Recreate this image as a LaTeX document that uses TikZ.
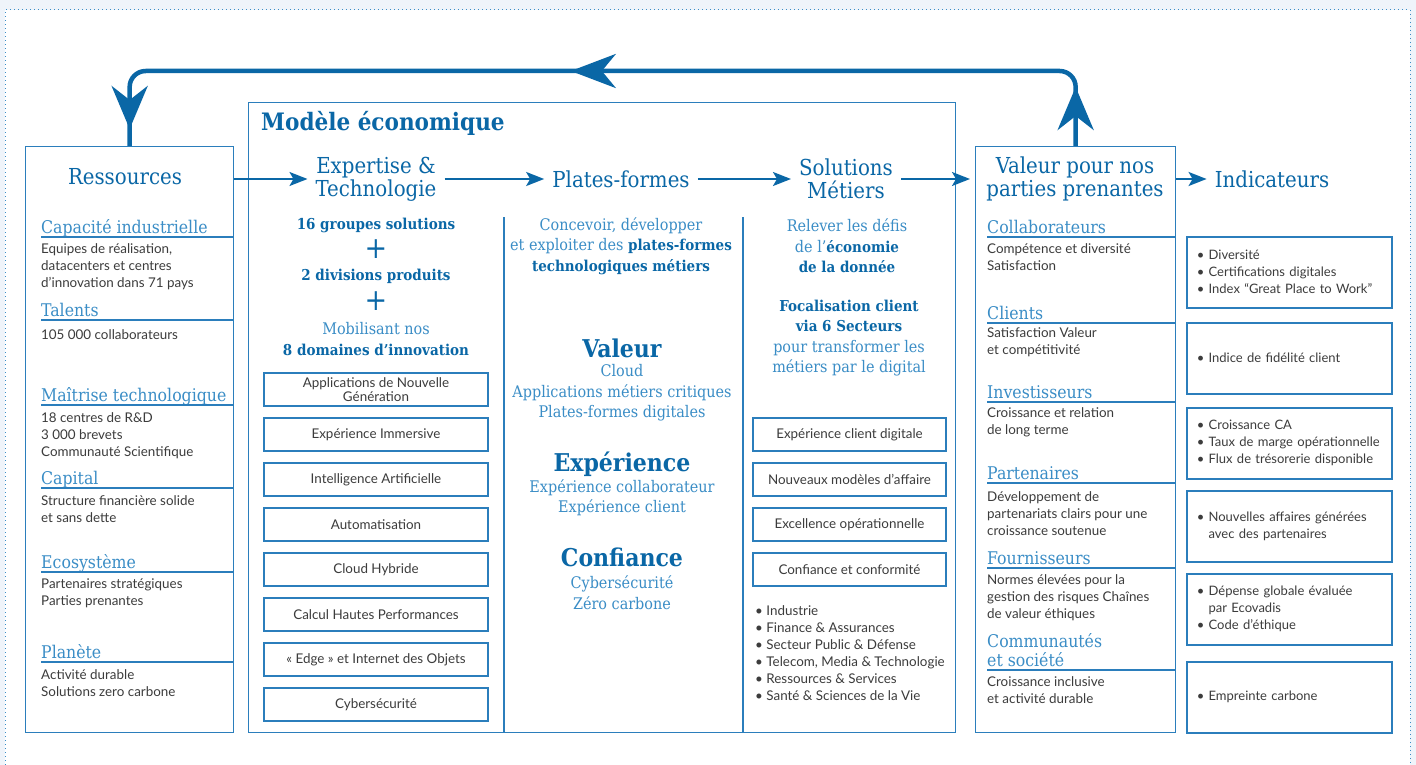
\documentclass[tikz,border=0pt]{standalone}
\usepackage{fontspec}
\usepackage{tikz}
\usetikzlibrary{arrows.meta}
\usetikzlibrary{decorations.markings}
\setmainfont{Lato}
\IfFontExistsTF{DejaVu Serif Condensed}
    {\newfontfamily\slab{DejaVu Serif Condensed}}
    {\newfontfamily\slab[FakeStretch = 0.9]{DejaVu Serif}}
\definecolor{AtosBlue}{HTML}{0A67A6}
\definecolor{AtosSky}{HTML}{3A8DC6}
\definecolor{AtosLine}{HTML}{2B7EBC}
\definecolor{AtosGrey}{HTML}{3C3C3C}
\definecolor{AtosBack}{HTML}{EFF4FA}
\newcommand{\hl}[1]{\textcolor{AtosBlue}{\bfseries\fontsize{15}{20.5}\selectfont #1}}

\begin{document}
\begin{tikzpicture}[
        x = 1pt,
        y = -1pt,
        frame/.style = {
            draw       = AtosLine,
            line width = 1.3pt,
            anchor     = north west,
            inner sep  = 0pt,
        },
        wall/.style = {
            draw       = AtosLine,
            line width = 1.3pt,
        },
        head/.style = {
            text       = AtosBlue,
            align      = center,
            inner xsep = 8pt,
            inner ysep = 0pt,
            font       = \slab\fontsize{22}{23}\selectfont,
        },
        title/.style = {
            text      = AtosBlue,
            anchor    = west,
            inner sep = 0pt,
            font      = \slab\bfseries\fontsize{24}{26}\selectfont,
        },
        cat/.style = {
            text       = AtosSky,
            anchor     = south west,
            inner sep  = 0pt,
            text depth = 3pt,
            font       = \slab\fontsize{17.5}{19}\selectfont,
        },
        rule/.style = {
            draw       = AtosLine,
            line width = 1.5pt,
        },
        body/.style = {
            text      = AtosGrey,
            anchor    = north west,
            align     = left,
            inner sep = 0pt,
            font      = \fontsize{13.4}{17}\selectfont,
            execute at begin node = \strut,
        },
        lead/.style = {
            text      = AtosSky,
            align     = center,
            inner sep = 0pt,
            font      = \slab\fontsize{16}{20.5}\selectfont,
        },
        big/.style = {
            text      = AtosBlue,
            inner sep = 0pt,
            font      = \slab\bfseries\fontsize{24.5}{26}\selectfont,
        },
        plus/.style = {
            text      = AtosBlue,
            inner sep = 0pt,
            font      = \slab\fontsize{30}{30}\selectfont,
        },
        domainbox/.style = {
            draw           = AtosLine,
            line width     = 1.2pt,
            text           = AtosGrey,
            align          = center,
            inner sep      = 0pt,
            minimum height = 33pt,
            font           = \fontsize{13.4}{14}\selectfont,
        },
        kpi/.style = {
            draw           = AtosLine,
            line width     = 1.5pt,
            text           = AtosGrey,
            anchor         = north west,
            align          = left,
            inner xsep     = 10pt,
            text width     = 185pt,
            minimum width  = 205pt,
            minimum height = 71pt,
            font           = \fontsize{13}{17}\selectfont,
        },
        flow/.style = {
            draw       = AtosBlue,
            line width = 2pt,
            -{Stealth[length = 18pt, width = 14pt, inset = 4pt]},
        },
        backloop/.style = {
            draw            = AtosBlue,
            line width      = 4.5pt,
            rounded corners = 16pt,
            postaction      = {decorate},
            decoration      = {
                markings,
                mark = at position 59pt with {\arrow[AtosBlue]{Stealth[length = 43pt, width = 36pt, inset = 14pt]}},
                mark = at position 573pt with {\arrow[AtosBlue]{Stealth[length = 45pt, width = 34pt, inset = 14pt]}},
                mark = at position -17pt with {\arrow[AtosBlue]{Stealth[length = 43pt, width = 36pt, inset = 14pt]}},
            },
        },
    ]
    \useasboundingbox (0,0) rectangle (1416,765);
    \fill[AtosBack] (0,0) rectangle (1416,765);
    \fill[white] (5,10) rectangle (1410,765);
    \draw[AtosSky, line width = 1pt, dash pattern = on 1pt off 3pt]
        (5,765) -- (5,10) -- (1410,10) -- (1410,765);

    % Ressources
    \node[frame, minimum width = 208pt, minimum height = 586pt] (res) at (25,146) {};
    \node[head] (resT) at (125,177) {Ressources};

    \node[cat] (cap) at (41,237) {Capacité industrielle};
    \draw[rule] (cap.south west) -- (cap.south west -| res.east);
    \node[body] (capB) at (41,243) {Equipes de réalisation,\\datacenters et centres\\d’innovation dans 71 pays};

    \node[cat] (tal) at (41,320) {Talents};
    \draw[rule] (tal.south west) -- (tal.south west -| res.east);
    \node[body] (talB) at (41,327) {105~000 collaborateurs};

    \node[cat] (mai) at (41,405) {Maîtrise technologique};
    \draw[rule] (mai.south west) -- (mai.south west -| res.east);
    \node[body] (maiB) at (41,412) {18 centres de R\&D\\3~000 brevets\\Communauté Scientifique};

    \node[cat] (capi) at (41,488) {Capital};
    \draw[rule] (capi.south west) -- (capi.south west -| res.east);
    \node[body] (capiB) at (41,495) {Structure financière solide\\et sans dette};

    \node[cat] (eco) at (41,572) {Ecosystème};
    \draw[rule] (eco.south west) -- (eco.south west -| res.east);
    \node[body] (ecoB) at (41,579) {Partenaires stratégiques\\Parties prenantes};

    \node[cat] (pla) at (41,662) {Planète};
    \draw[rule] (pla.south west) -- (pla.south west -| res.east);
    \node[body] (plaB) at (41,669) {Activité durable\\Solutions zero carbone};

    % Modele economique
    \node[frame, minimum width = 707pt, minimum height = 630pt] (mod) at (248,102) {};
    \node[title] (modT) at (261,123) {Modèle économique};
    \draw[wall] (504,217) -- (504,732);
    \draw[wall] (743,217) -- (743,732);

    \node[head] (expT) at (376,179) {Expertise \&\\Technologie};
    \node[head] (pfT) at (621,179) {Plates-formes};
    \node[head] (solT) at (846,179) {Solutions\\Métiers};

    \node[lead] (grp) at (376,225) {\hl{16 groupes solutions}};
    \node[plus] (plusA) at (376,249) {+};
    \node[lead] (div) at (376,276) {\hl{2 divisions produits}};
    \node[plus] (plusB) at (376,301) {+};
    \node[lead] (mob) at (376,339) {Mobilisant nos\\\hl{8 domaines d’innovation}};

    \node[domainbox, minimum width = 224pt] (dNext)  at (376,389.5) {Applications de Nouvelle\\Génération};
    \node[domainbox, minimum width = 224pt] (dImm)   at (376,434.5) {Expérience Immersive};
    \node[domainbox, minimum width = 224pt] (dIA)    at (376,479.5) {Intelligence Artificielle};
    \node[domainbox, minimum width = 224pt] (dAuto)  at (376,524.5) {Automatisation};
    \node[domainbox, minimum width = 224pt] (dCloud) at (376,569.5) {Cloud Hybride};
    \node[domainbox, minimum width = 224pt] (dHPC)   at (376,614.5) {Calcul Hautes Performances};
    \node[domainbox, minimum width = 224pt] (dEdge)  at (376,659.5) {«~Edge~» et Internet des Objets};
    \node[domainbox, minimum width = 224pt] (dCyber) at (376,704.5) {Cybersécurité};

    \node[lead] (pfA) at (621,246) {Concevoir, développer\\et exploiter des \hl{plates-formes}\\\hl{technologiques métiers}};
    \node[big]  (pfV) at (622,348) {Valeur};
    \node[lead] (pfVL) at (622,393) {Cloud\\Applications métiers critiques\\Plates-formes digitales};
    \node[big]  (pfE) at (622,464) {Expérience};
    \node[lead] (pfEL) at (622,498) {Expérience collaborateur\\Expérience client};
    \node[big]  (pfC) at (622,557) {Confiance};
    \node[lead] (pfCL) at (622,592.5) {Cybersécurité\\Zéro carbone};

    \node[lead] (solA) at (847,246) {Relever les défis\\de l’\hl{économie}\\\hl{de la donnée}};
    \node[lead] (solB) at (849,338) {\hl{Focalisation client}\\\hl{via 6 Secteurs}\\pour transformer les\\métiers par le digital};

    \node[domainbox, minimum width = 193pt] (sCx)    at (849.5,434.5) {Expérience client digitale};
    \node[domainbox, minimum width = 193pt] (sModel) at (849.5,479.5) {Nouveaux modèles d’affaire};
    \node[domainbox, minimum width = 193pt] (sOps)   at (849.5,524.5) {Excellence opérationnelle};
    \node[domainbox, minimum width = 193pt] (sTrust) at (849.5,569.5) {Confiance et conformité};
    \node[body] (solS) at (755,605) {• Industrie\\• Finance \& Assurances\\• Secteur Public \& Défense\\• Telecom, Media \& Technologie\\• Ressources \& Services\\• Santé \& Sciences de la Vie};

    % Valeur pour nos parties prenantes
    \node[frame, minimum width = 200pt, minimum height = 586pt] (val) at (975,146) {};
    \node[head] (valT) at (1075,179) {Valeur pour nos\\parties prenantes};

    \node[cat] (col) at (987,237) {Collaborateurs};
    \draw[rule] (col.south west) -- (col.south west -| val.east);
    \node[body] (colB) at (987,243) {Compétence et diversité\\Satisfaction};

    \node[cat] (cli) at (987,323) {Clients};
    \draw[rule] (cli.south west) -- (cli.south west -| val.east);
    \node[body] (cliB) at (987,327) {Satisfaction Valeur\\et compétitivité};

    \node[cat] (inv) at (987,402) {Investisseurs};
    \draw[rule] (inv.south west) -- (inv.south west -| val.east);
    \node[body] (invB) at (987,407) {Croissance et relation\\de long terme};

    \node[cat] (par) at (987,483) {Partenaires};
    \draw[rule] (par.south west) -- (par.south west -| val.east);
    \node[body] (parB) at (987,491) {Développement de\\partenariats clairs pour une\\croissance soutenue};

    \node[cat] (fou) at (987,568) {Fournisseurs};
    \draw[rule] (fou.south west) -- (fou.south west -| val.east);
    \node[body] (fouB) at (987,574) {Normes élevées pour la\\gestion des risques Chaînes\\de valeur éthiques};

    \node[cat] (comA) at (987,651) {Communautés};
    \node[cat] (com) at (987,670) {et société};
    \draw[rule] (com.south west) -- (com.south west -| val.east);
    \node[body] (comB) at (987,676) {Croissance inclusive\\et activité durable};

    % Indicateurs
    \node[head] (indT) at (1272,179) {Indicateurs};
    \node[kpi] (kCol) at (1186,236) {• Diversité\\• Certifications digitales\\• Index “Great Place to Work”};
    \node[kpi] (kCli) at (1186,322) {• Indice de fidélité client};
    \node[kpi] (kInv) at (1186,407) {• Croissance CA\\• Taux de marge opérationnelle\\• Flux de trésorerie disponible};
    \node[kpi] (kPar) at (1186,490) {• Nouvelles affaires générées\\\phantom{• }avec des partenaires};
    \node[kpi] (kFou) at (1186,573) {• Dépense globale évaluée\\\phantom{• }par Ecovadis\\• Code d’éthique};
    \node[kpi] (kCom) at (1186,661) {• Empreinte carbone};

    % fleches
    \draw[flow] (res.east |- expT) -- (expT);
    \draw[flow] (expT) -- (pfT);
    \draw[flow] (pfT) -- (solT);
    \draw[flow, shorten > = 5pt] (solT) -- (solT -| val.west);
    \draw[flow] (indT -| val.east) -- (indT);

    \coordinate (top) at (0,71);
    \draw[backloop] (val.north) -- (val.north |- top) -- (res.north |- top) -- (res.north);
\end{tikzpicture}
\end{document}
